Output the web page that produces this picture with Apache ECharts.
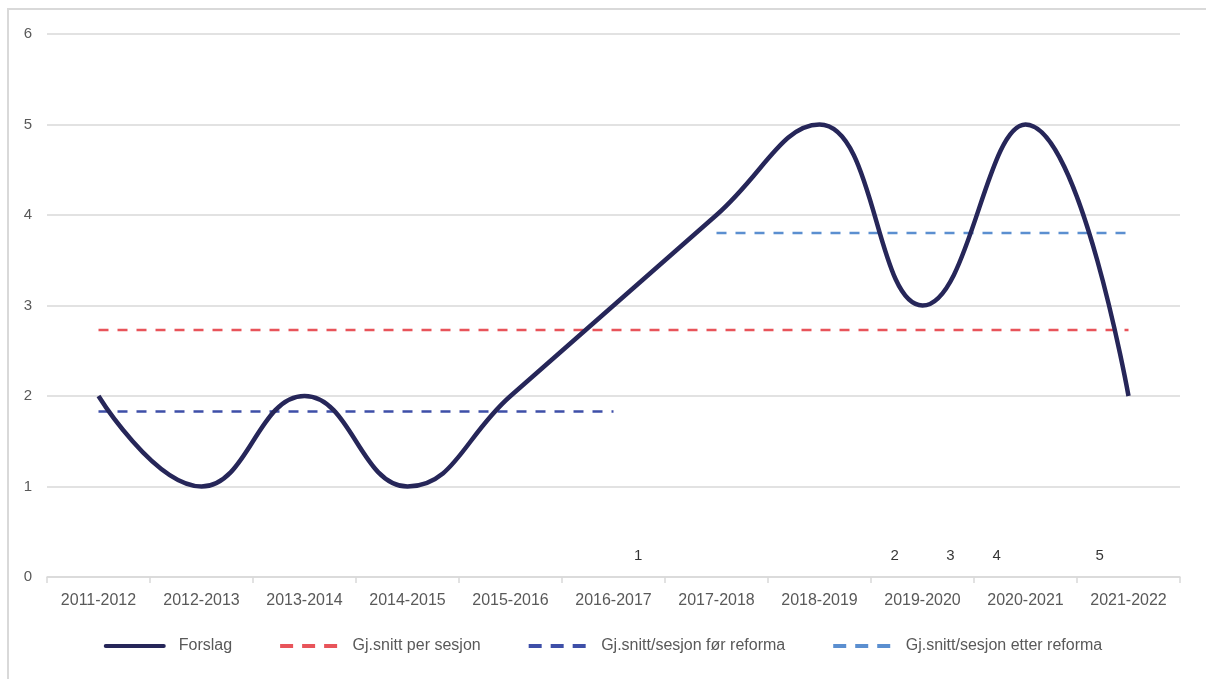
<!DOCTYPE html>
<html>
<head>
<meta charset="utf-8">
<script src="https://cdn.jsdelivr.net/npm/echarts@6/dist/echarts.min.js"></script>
<style>
html,body{margin:0;padding:0;width:1206px;height:679px;overflow:hidden;background:#fff;}
#frame{position:absolute;left:7px;top:8px;width:1260px;height:720px;border:2px solid #d9d9d9;box-sizing:border-box;}
#chart{position:absolute;left:0;top:0;width:1206px;height:679px;}
</style>
</head>
<body>
<div id="frame"></div>
<div id="chart"></div>
<script>
const categories = ['2011-2012','2012-2013','2013-2014','2014-2015','2015-2016','2016-2017','2017-2018','2018-2019','2019-2020','2020-2021','2021-2022'];
const forslag = [2,1,2,1,2,3,4,5,3,5,2];
const snittPerSesjon = [2.73,2.73,2.73,2.73,2.73,2.73,2.73,2.73,2.73,2.73,2.73];
const snittFor = [1.83,1.83,1.83,1.83,1.83,1.83,null,null,null,null,null];
const snittEtter = [null,null,null,null,null,null,3.8,3.8,3.8,3.8,3.8];
const noteLabels = ['1','2','3','4','5'];
const noteX = [5.24,7.73,8.27,8.72,9.72];
const noteY = [0.23,0.23,0.23,0.23,0.23];

const font = '"Liberation Sans", "DejaVu Sans", sans-serif';
const solidIcon = 'path://M2,0H62A2,2,0,0,1,62,4H2A2,2,0,0,1,2,0Z';
const dashIcon = 'path://M0,0H13V4H0Z M22,0H35V4H22Z M44,0H57V4H44Z';
const chart = echarts.init(document.getElementById('chart'), null, {renderer:'canvas'});
chart.setOption({
  animation:false,
  textStyle:{fontFamily:font},
  grid:{left:47,right:26,top:34,bottom:102,containLabel:false},
  legend:{
    bottom:20,left:'center',itemGap:48,itemWidth:62,itemHeight:4,
    textStyle:{color:'#595959',fontSize:16,fontFamily:font,padding:[0,0,0,8]},
    data:[
      {name:'Forslag',icon:solidIcon,itemStyle:{color:'#262659'}},
      {name:'Gj.snitt per sesjon',icon:dashIcon,itemStyle:{color:'#e8545a'}},
      {name:'Gj.snitt/sesjon før reforma',icon:dashIcon,itemStyle:{color:'#3e4fa8'}},
      {name:'Gj.snitt/sesjon etter reforma',icon:dashIcon,itemStyle:{color:'#5b8fd0'}}
    ]
  },
  xAxis:[{
    type:'category',data:categories,boundaryGap:true,
    axisLine:{lineStyle:{color:'#d9d9d9',width:1.5}},
    axisTick:{show:true,alignWithLabel:false,length:6,lineStyle:{color:'#d9d9d9',width:1.5}},
    axisLabel:{color:'#595959',fontSize:16,margin:16,fontFamily:font},
    splitLine:{show:false}
  },{
    type:'value',min:-0.5,max:10.5,show:false
  }],
  yAxis:{
    type:'value',min:0,max:6,interval:1,
    axisLine:{show:false},axisTick:{show:false},
    axisLabel:{color:'#595959',fontSize:15,margin:15,fontFamily:font},
    splitLine:{lineStyle:{color:'#d9d9d9',width:1.5}}
  },
  series:[
    {name:'Forslag',type:'line',data:forslag,smooth:0.45,symbol:'none',
     lineStyle:{color:'#262659',width:4.5},itemStyle:{color:'#262659'},z:5},
    {name:'Gj.snitt per sesjon',type:'line',data:snittPerSesjon,symbol:'none',
     lineStyle:{color:'#e8545a',width:2.5,type:[10,9]},itemStyle:{color:'#e8545a'},z:3},
    {name:'Gj.snitt/sesjon før reforma',type:'line',data:snittFor,symbol:'none',
     lineStyle:{color:'#3e4fa8',width:2.5,type:[10,9]},itemStyle:{color:'#3e4fa8'},z:3},
    {name:'Gj.snitt/sesjon etter reforma',type:'line',data:snittEtter,symbol:'none',
     lineStyle:{color:'#5b8fd0',width:2.5,type:[10,9]},itemStyle:{color:'#5b8fd0'},z:3},
    {name:'notes',type:'scatter',xAxisIndex:1,symbolSize:0,
     data:noteX.map((x,i)=>({value:[x,noteY[i]],label:{formatter:noteLabels[i]}})),
     label:{show:true,position:'inside',color:'#000',fontSize:15,fontFamily:font},
     silent:true}
  ]
});
</script>
</body>
</html>
